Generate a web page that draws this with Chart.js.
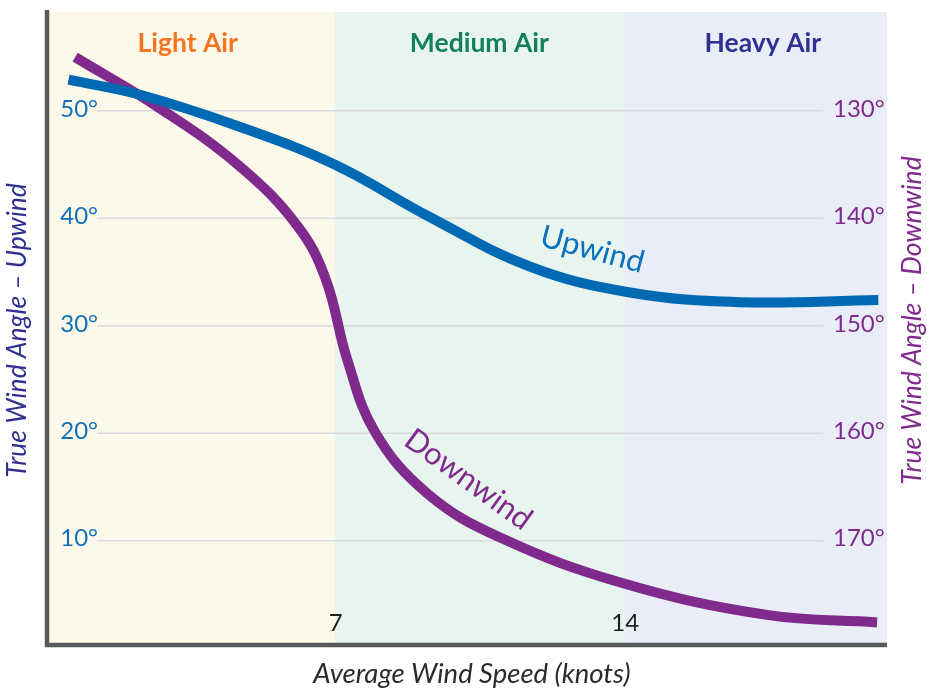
<!DOCTYPE html>
<html>
<head>
<meta charset="utf-8">
<script src="https://cdn.jsdelivr.net/npm/chart.js@4.4.1/dist/chart.umd.min.js"></script>
<style>
  html, body { margin: 0; padding: 0; background: #fff; }
  #wrap { width: 927px; height: 690px; }
</style>
</head>
<body>
<div id="wrap"><canvas id="chart" width="927" height="690"></canvas></div>
<script>
// wind speed ranges (knots)
const zoneNames = ["Light Air", "Medium Air", "Heavy Air"];
const zoneStart = [0, 7, 14];
const zoneEnd = [7, 14, 20.35];
const zoneLabelAt = [3.45, 10.5, 17.35];

// upwind true wind angle (left axis, degrees)
const upwindSpeed = [0.57, 2.3, 4.72, 7.0, 9.31, 11.73, 14.14, 16.8, 20.14];
const upwindAngle = [52.9, 51.5, 48.5, 45.0, 40.1, 35.5, 33.1, 32.2, 32.4];

// downwind true wind angle (right axis, degrees)
const downwindSpeed = [0.73, 2.79, 4.72, 6.1, 6.78, 7.31, 7.98, 9.24, 11.0, 13.97, 17.45, 20.11];
const downwindAngle = [125.0, 129.8, 135.2, 140.7, 145.6, 153.2, 159.9, 165.6, 169.7, 173.95, 176.9, 177.6];

// tick labels
const xTicks = [7, 14];
const leftTicks = [10, 20, 30, 40, 50];
const rightTicks = [130, 140, 150, 160, 170];

// where the curve names sit (knots, degrees on their own axis)
const upwindLabelAt = [13.23, 37.1];
const downwindLabelAt = [10.23, 164.3];

const zoneFill = ["#fdf9ea", "#e8f5ef", "#e9edf7"];
const zoneText = ["#f47521", "#12805a", "#2e3192"];
const blue = "#0069b4";
const purple = "#7f2a8c";

function txt(ctx, s, px, py, font, color, align, rot) {
  ctx.save();
  ctx.translate(px, py);
  if (rot) ctx.rotate(rot);
  ctx.font = font;
  ctx.fillStyle = color;
  ctx.textAlign = align || "center";
  ctx.textBaseline = "middle";
  ctx.fillText(s, 0, 0);
  ctx.restore();
}

const decor = {
  id: "decor",
  beforeDatasetsDraw(chart) {
    const { ctx, chartArea: a, scales } = chart;
    const x = scales.x, y = scales.y, y2 = scales.y2;

    // background bands
    zoneStart.forEach((s, i) => {
      const x0 = x.getPixelForValue(s);
      const x1 = x.getPixelForValue(zoneEnd[i]);
      ctx.fillStyle = zoneFill[i];
      ctx.fillRect(x0, a.top, x1 - x0, a.bottom - a.top);
    });

    // grid lines (stop short of the inner tick labels)
    ctx.save();
    ctx.strokeStyle = "#d8d9dc";
    ctx.lineWidth = 1.5;
    leftTicks.forEach((t) => {
      const py = y.getPixelForValue(t);
      ctx.beginPath();
      ctx.moveTo(a.left + 50, py);
      ctx.lineTo(a.right - 64, py);
      ctx.stroke();
    });
    ctx.restore();

    // tick labels
    leftTicks.forEach((t) => {
      txt(ctx, t + "°", a.left + 51, y.getPixelForValue(t) - 2, "24px Lato", "#1170b8", "right");
    });
    rightTicks.forEach((t) => {
      txt(ctx, t + "°", a.right - 54, y2.getPixelForValue(t) - 2, "24px Lato", purple, "left");
    });
    xTicks.forEach((t) => {
      txt(ctx, String(t), x.getPixelForValue(t) + 1, a.bottom - 22, "24px Lato", "#231f20", "center");
    });

    // zone names
    zoneNames.forEach((n, i) => {
      txt(ctx, n, x.getPixelForValue(zoneLabelAt[i]), a.top + 31, "bold 26.5px Lato", zoneText[i], "center");
    });
  },
  afterDatasetsDraw(chart) {
    const { ctx, chartArea: a, scales } = chart;
    const x = scales.x, y = scales.y, y2 = scales.y2;

    // axis lines
    ctx.save();
    ctx.strokeStyle = "#58595b";
    ctx.lineWidth = 4.5;
    ctx.beginPath();
    ctx.moveTo(a.left, a.top - 2);
    ctx.lineTo(a.left, a.bottom + 2.25);
    ctx.moveTo(a.left - 2.25, a.bottom);
    ctx.lineTo(a.right, a.bottom);
    ctx.stroke();
    ctx.restore();

    // curve names
    txt(ctx, "Upwind", x.getPixelForValue(upwindLabelAt[0]), y.getPixelForValue(upwindLabelAt[1]),
      "31px Lato", "#0a72bd", "center", 15 * Math.PI / 180);
    txt(ctx, "Downwind", x.getPixelForValue(downwindLabelAt[0]), y2.getPixelForValue(downwindLabelAt[1]),
      "31px Lato", purple, "center", 36 * Math.PI / 180);

    // axis titles
    const midY = (a.top + a.bottom) / 2;
    txt(ctx, "True Wind Angle – Upwind", a.left - 30, midY + 2, "italic 26.5px Lato", "#2e3192", "center", -Math.PI / 2);
    txt(ctx, "True Wind Angle – Downwind", a.right + 25, midY - 8, "italic 26.5px Lato", purple, "center", -Math.PI / 2);
    txt(ctx, "Average Wind Speed (knots)", (a.left + a.right) / 2 + 5, a.bottom + 29, "italic 27.5px Lato", "#2b2b2b", "center");
  }
};

function draw() {
  new Chart(document.getElementById("chart"), {
    type: "line",
    data: {
      datasets: [
        {
          label: "Upwind",
          data: upwindSpeed.map((s, i) => ({ x: s, y: upwindAngle[i] })),
          yAxisID: "y",
          borderColor: blue,
          borderWidth: 10,
          pointRadius: 0,
          tension: 0.4,
          fill: false
        },
        {
          label: "Downwind",
          data: downwindSpeed.map((s, i) => ({ x: s, y: downwindAngle[i] })),
          yAxisID: "y2",
          borderColor: purple,
          borderWidth: 10,
          pointRadius: 0,
          tension: 0.4,
          fill: false
        }
      ]
    },
    options: {
      responsive: false,
      animation: false,
      devicePixelRatio: 1,
      layout: { padding: { left: 47, right: 40, top: 12, bottom: 45 } },
      plugins: { legend: { display: false }, tooltip: { enabled: false } },
      scales: {
        x: { type: "linear", min: 0.05, max: 20.35, display: false },
        y: { type: "linear", min: 0.3, max: 59.2, display: false },
        y2: { type: "linear", min: 120.8, max: 179.7, reverse: true, display: false }
      }
    },
    plugins: [decor]
  });
}

Promise.all([
  document.fonts.load("24px Lato"),
  document.fonts.load("bold 26.5px Lato"),
  document.fonts.load("italic 26.5px Lato")
]).then(draw, draw);
</script>
</body>
</html>
